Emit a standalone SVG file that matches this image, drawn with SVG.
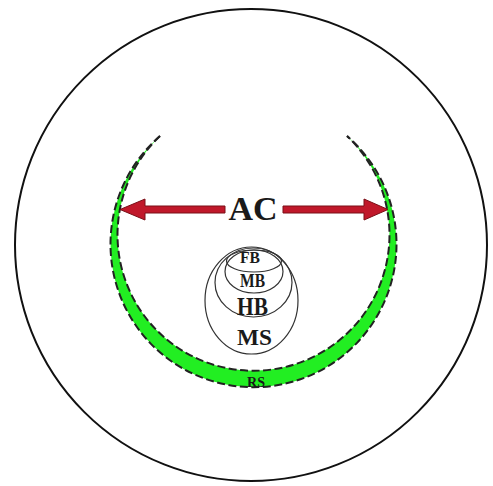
<svg xmlns="http://www.w3.org/2000/svg" width="493" height="486" viewBox="0 0 493 486">
<style>
.lbl{font-family:"Liberation Serif","Times New Roman",serif;font-weight:bold;fill:#1a1a1a;text-anchor:middle}
.ell{fill:none;stroke:#333;stroke-width:1.2}
.dash{fill:none;stroke:#222;stroke-width:2;stroke-dasharray:8 3.5}
.arrow{fill:#c0182a;stroke:#7a0e16;stroke-width:1}
</style>
<rect width="493" height="486" fill="#fff"/>
<g id="outer-circle"><circle cx="251" cy="245" r="236" fill="none" stroke="#111" stroke-width="2"/></g>
<g id="RS">
<path d="M160 136 A143 143 0 1 0 347 136 A136 136 0 1 1 160 136 Z" fill="#22ee22"/>
<path class="dash" d="M160 136 A143 143 0 1 0 347 136"/>
<path class="dash" d="M160 136 A136 136 0 1 0 347 136"/>
<text class="lbl" x="256" y="387" font-size="14" textLength="18" lengthAdjust="spacingAndGlyphs">RS</text>
</g>
<g id="MS"><ellipse class="ell" cx="251.5" cy="300.5" rx="46.5" ry="53.5"/><text class="lbl" x="254.5" y="345" font-size="23" textLength="35" lengthAdjust="spacingAndGlyphs">MS</text></g>
<g id="HB"><ellipse class="ell" cx="253.5" cy="282.5" rx="38.5" ry="34.5"/><text class="lbl" x="252.5" y="315" font-size="25" textLength="31" lengthAdjust="spacingAndGlyphs">HB</text></g>
<g id="MB"><ellipse class="ell" cx="254" cy="271.5" rx="29" ry="21.5"/><text class="lbl" x="252.5" y="287" font-size="18" textLength="25" lengthAdjust="spacingAndGlyphs">MB</text></g>
<g id="FB"><ellipse class="ell" cx="254" cy="261" rx="27.5" ry="11"/><text class="lbl" x="250" y="263" font-size="17" textLength="20" lengthAdjust="spacingAndGlyphs">FB</text></g>
<g id="AC">
<text class="lbl" x="253" y="220" font-size="34">AC</text>
</g>
<g id="connectors">
<path class="arrow" d="M120 209.5 L145 199 L145 206 L225 206 L225 213 L145 213 L145 220 Z"/>
<path class="arrow" d="M388 209.5 L364 199 L364 206 L283 206 L283 213 L364 213 L364 220 Z"/>
</g>
</svg>
